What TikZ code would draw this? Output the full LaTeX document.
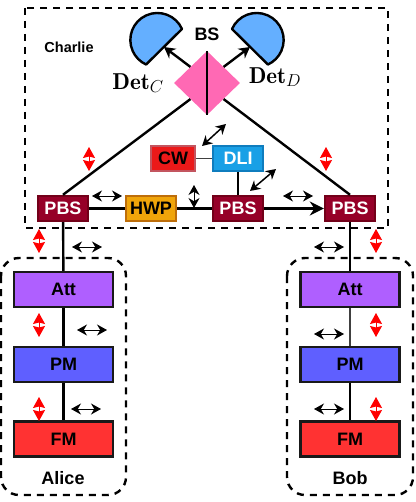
\documentclass[tikz,border=0pt]{standalone}
\usepackage{fontspec}
\setsansfont{Liberation Sans}
\usetikzlibrary{arrows.meta,shapes.geometric}
\tikzset{
  devbox/.style={draw,line width=2.4pt,inner sep=0pt,font=\sffamily\bfseries\fontsize{18}{20}\selectfont},
  tallbox/.style={devbox,minimum width=99pt,minimum height=35pt,draw=black!90},
  pbsbox/.style={devbox,minimum width=50pt,minimum height=25pt,fill=pbsred,draw=pbsedge,text=white},
  fibre/.style={line width=2.4pt},
  thinfibre/.style={line width=1.2pt,black!75},
  shiftarrow/.style={line width=0.9pt,{Stealth[length=10pt,width=11pt]}-{Stealth[length=10pt,width=11pt]}},
  fluctarrow/.style={line width=1pt,red,{Stealth[length=11pt,inset=1.5pt,width=12pt]}-{Stealth[length=11pt,inset=1.5pt,width=12pt]}},
  diagarrow/.style={line width=1.5pt,{Stealth[length=10pt,width=11pt]}-{Stealth[length=10pt,width=11pt]}},
  region/.style={draw,line width=2.4pt,dash pattern=on 7pt off 6pt},
  textlabel/.style={font=\sffamily\bfseries\fontsize{18}{20}\selectfont},
  detector/.style={draw,line width=2.4pt,fill=detblue,line join=round}
}
\begin{document}
\begin{tikzpicture}[x=1pt,y=-1pt]
  \definecolor{pbsred}{RGB}{150,0,40}
  \definecolor{pbsedge}{RGB}{115,0,25}
  \definecolor{detblue}{RGB}{100,175,255}
  \definecolor{bspink}{RGB}{255,105,180}
  \definecolor{hwporange}{RGB}{240,165,10}
  \definecolor{hwpedge}{RGB}{190,110,10}
  \definecolor{cwred}{RGB}{235,25,25}
  \definecolor{cwedge}{RGB}{195,85,95}
  \definecolor{dliblue}{RGB}{25,160,230}
  \definecolor{dliedge}{RGB}{15,125,190}
  \definecolor{attpurple}{RGB}{175,95,255}
  \definecolor{pmblue}{RGB}{95,95,255}
  \definecolor{fmred}{RGB}{255,50,50}
  \useasboundingbox (0,0) rectangle (415,502);
  % regions
  \draw[region] (25,8) rectangle (388,228);
  \draw[region,rounded corners=18pt] (1,258) rectangle (126,495);
  \draw[region,rounded corners=18pt] (287,258) rectangle (413,495);
  \node[textlabel,font=\sffamily\bfseries\fontsize{14.5}{17}\selectfont] (charlie) at (69,47) {Charlie};
  \node[textlabel] (alice) at (63,478) {Alice};
  \node[textlabel] (bob) at (350,478) {Bob};
  % detectors
  \draw[detector] (182,29) arc[start angle=-24,end angle=-245.4,radius=27] --cycle;
  \draw[detector] (232,29) arc[start angle=-156,end angle=65.4,radius=27] --cycle;
  \coordinate (detc) at (164,47);
  \coordinate (detd) at (250,47);
  \node[inner sep=0pt,font=\fontsize{23}{27}\selectfont] (detclabel) at (138,83) {$\mathbf{Det}_C$};
  \node[inner sep=0pt,font=\fontsize{23}{27}\selectfont] (detdlabel) at (275,77) {$\mathbf{Det}_D$};
  % central station
  \node[diamond,fill=bspink,aspect=1,inner sep=0pt,minimum width=66pt,minimum height=64pt] (bs) at (207,83) {};
  \node[textlabel] (bslabel) at (207,34) {BS};
  \node[pbsbox] (pbsa) at (63,208.5) {PBS};
  \node[devbox,minimum width=50pt,minimum height=25pt,fill=hwporange,draw=hwpedge] (hwp) at (151,208.5) {HWP};
  \node[pbsbox] (pbsb) at (238,208.5) {PBS};
  \node[pbsbox] (pbsc) at (350,208.5) {PBS};
  \node[devbox,minimum width=44pt,minimum height=25pt,fill=cwred,draw=cwedge] (cw) at (173,158.5) {CW};
  \node[devbox,minimum width=50pt,minimum height=25pt,fill=dliblue,draw=dliedge,text=white] (dli) at (238,158.5) {DLI};
  % senders
  \node[tallbox,fill=attpurple] (atta) at (63.5,289.5) {Att};
  \node[tallbox,fill=pmblue] (pma) at (63.5,364.5) {PM};
  \node[tallbox,fill=fmred] (fma) at (63.5,439) {FM};
  \node[tallbox,fill=attpurple] (attb) at (350,289.5) {Att};
  \node[tallbox,fill=pmblue] (pmb) at (350,364.5) {PM};
  \node[tallbox,fill=fmred] (fmb) at (350,439) {FM};
  % fibres
  \draw[fibre] (bs.north)--(bs.south);
  \draw[fibre,-{Stealth[length=11pt,width=12pt]}] (bs.north west)--(detc);
  \draw[fibre,-{Stealth[length=11pt,width=12pt]}] (bs.north east)--(detd);
  \draw[fibre] (bs.south west)--(pbsa.north);
  \draw[fibre] (bs.south east)--(pbsc.north);
  \draw[fibre] (pbsa)--(hwp);
  \draw[fibre] (hwp)--(pbsb);
  \draw[fibre,-{Stealth[length=14pt,width=14pt]}] (pbsb)--(pbsc);
  \draw[fibre] (dli)--(pbsb);
  \draw[thinfibre] (cw)--(dli);
  \draw[fibre] (pbsa)--(atta);
  \draw[fibre] (atta)--(pma);
  \draw[fibre] (pma)--(fma);
  \draw[fibre] (pbsc)--(attb);
  \draw[thinfibre] (attb)--(pmb);
  \draw[fibre] (pmb)--(fmb);
  % shifts
  \foreach \x/\y in {107/196,87/247,298/196,329/247,92/330,86/409,329/334,329/409}
    \draw[shiftarrow] (\x-15,\y)--(\x+15,\y);
  \draw[shiftarrow] (194,185)--(194,208);
  \foreach \x/\y in {89/159,39/241,326/159,376/241,39/325,39/409,376/325,376/409}
    \draw[fluctarrow] (\x,\y-12)--(\x,\y+12);
  \draw[diagarrow] (202,146)--(226,124);
  \draw[diagarrow] (250,191)--(276,169);
\end{tikzpicture}
\end{document}
